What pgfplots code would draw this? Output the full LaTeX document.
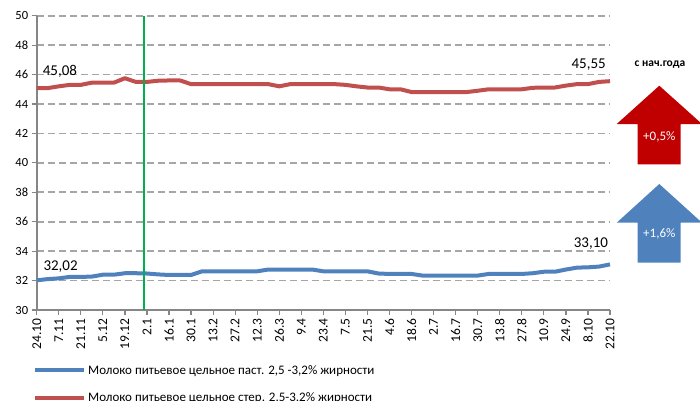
\documentclass[border=0pt]{standalone}
\usepackage{fontspec}
\setmainfont{Carlito}
\usepackage{pgfplots}
\pgfplotsset{compat=1.18}

\definecolor{pastblue}{HTML}{4F81BD}
\definecolor{sterred}{HTML}{C0504D}
\definecolor{arrowred}{HTML}{C00000}
\definecolor{yeargreen}{HTML}{00B050}
\definecolor{axisgray}{HTML}{868686}
\definecolor{gridgray}{HTML}{A6A6A6}

\begin{document}
\begin{tikzpicture}
\useasboundingbox (0,0) rectangle (700pt,400pt);
\clip (0,0) rectangle (700pt,400pt);
\begin{axis}[
  scale only axis,
  width=573.3pt, height=294.3pt,
  at={(36.7pt,90pt)}, anchor=south west,
  clip=false,
  xmin=0, xmax=52, ymin=30, ymax=50,
  ytick={30,32,...,50},
  xtick={0,2,...,52},
  xticklabels={24.10,7.11,21.11,5.12,19.12,2.1,16.1,30.1,13.2,27.2,12.3,26.3,9.4,23.4,7.5,21.5,4.6,18.6,2.7,16.7,30.7,13.8,27.8,10.9,24.9,8.10,22.10},
  /pgf/number format/assume math mode=true,
  y tick label style={font=\fontsize{12.5}{14}\selectfont},
  x tick label style={rotate=90, anchor=east, font=\fontsize{13.5}{15}\selectfont},
  axis lines*=left,
  axis line style={draw=axisgray, line width=1.6pt, -},
  tick align=outside,
  major tick length=5pt,
  tick style={draw=axisgray, line width=1.2pt},
  ymajorgrids,
  grid style={draw=gridgray, line width=1.6pt, dash pattern=on 7pt off 4pt},
  legend cell align=left,
  legend image code/.code={\draw[#1] (0pt,0pt) -- (49pt,0pt);},
  legend style={
    draw=none, fill=none,
    at={(axis description cs:-0.0065,-0.18)}, anchor=north west,
    font=\fontsize{13}{15}\selectfont,
    row sep=13pt, inner sep=0pt,
  },
]
\addplot[pastblue, line width=4pt, line join=round] coordinates {
  (0,32.02) (1,32.10) (2,32.15) (3,32.25) (4,32.25) (5,32.27) (6,32.40)
  (7,32.40) (8,32.50) (9,32.50) (10,32.48) (11,32.42) (12,32.38) (13,32.38)
  (14,32.38) (15,32.63) (16,32.63) (17,32.63) (18,32.63) (19,32.63) (20,32.63)
  (21,32.75) (22,32.75) (23,32.75) (24,32.75) (25,32.75) (26,32.63) (27,32.63)
  (28,32.63) (29,32.63) (30,32.63) (31,32.48) (32,32.45) (33,32.45) (34,32.45)
  (35,32.34) (36,32.34) (37,32.34) (38,32.34) (39,32.34) (40,32.34) (41,32.45)
  (42,32.45) (43,32.45) (44,32.45) (45,32.50) (46,32.60) (47,32.60) (48,32.75)
  (49,32.88) (50,32.90) (51,32.95) (52,33.10)
};
\addlegendentry{Молоко питьевое цельное паст. 2,5 -3,2\% жирности}
\addplot[sterred, line width=4pt, line join=round] coordinates {
  (0,45.08) (1,45.08) (2,45.20) (3,45.30) (4,45.30) (5,45.45) (6,45.45)
  (7,45.45) (8,45.75) (9,45.50) (10,45.50) (11,45.58) (12,45.60) (13,45.60)
  (14,45.35) (15,45.35) (16,45.35) (17,45.35) (18,45.35) (19,45.35) (20,45.35)
  (21,45.35) (22,45.20) (23,45.35) (24,45.35) (25,45.35) (26,45.35) (27,45.35)
  (28,45.30) (29,45.20) (30,45.12) (31,45.12) (32,45.00) (33,45.00) (34,44.81)
  (35,44.81) (36,44.81) (37,44.81) (38,44.81) (39,44.81) (40,44.90) (41,45.00)
  (42,45.00) (43,45.00) (44,45.00) (45,45.10) (46,45.12) (47,45.12) (48,45.25)
  (49,45.35) (50,45.35) (51,45.50) (52,45.55)
};
\addlegendentry{Молоко питьевое цельное стер. 2,5-3,2\% жирности}
% start of the year
\addplot[yeargreen, line width=1.6pt, forget plot] coordinates {(9.75,30) (9.75,50)};
% first and last values
\node[anchor=base west, inner sep=0pt, font=\fontsize{15}{17}\selectfont] at (axis cs:0.54,45.97) {45,08};
\node[anchor=base west, inner sep=0pt, font=\fontsize{15}{17}\selectfont] at (axis cs:0.6,32.67) {32,02};
\node[anchor=base east, inner sep=0pt, font=\fontsize{15}{17}\selectfont] at (axis cs:51.63,46.43) {45,55};
\node[anchor=base east, inner sep=0pt, font=\fontsize{15}{17}\selectfont] at (axis cs:51.84,34.26) {33,10};
\end{axis}
% change since the start of the year
\node[anchor=base, inner sep=0pt, font=\bfseries\fontsize{11.5}{13}\selectfont] at (660pt,333.3pt) {с нач.года};
\fill[arrowred] (659.3pt,314.3pt) -- (702pt,276pt) -- (680.7pt,276pt) -- (680.7pt,235.7pt)
  -- (637.7pt,235.7pt) -- (637.7pt,276pt) -- (616.7pt,276pt) -- cycle;
\fill[pastblue] (659.3pt,216pt) -- (702pt,177.3pt) -- (680.7pt,177.3pt) -- (680.7pt,137.3pt)
  -- (637.7pt,137.3pt) -- (637.7pt,177.3pt) -- (616.7pt,177.3pt) -- cycle;
\node[text=white, font=\fontsize{13}{15}\selectfont] at (659.3pt,263pt) {+0,5\%};
\node[text=white, font=\fontsize{13}{15}\selectfont] at (659.3pt,166pt) {+1,6\%};
\end{tikzpicture}
\end{document}
